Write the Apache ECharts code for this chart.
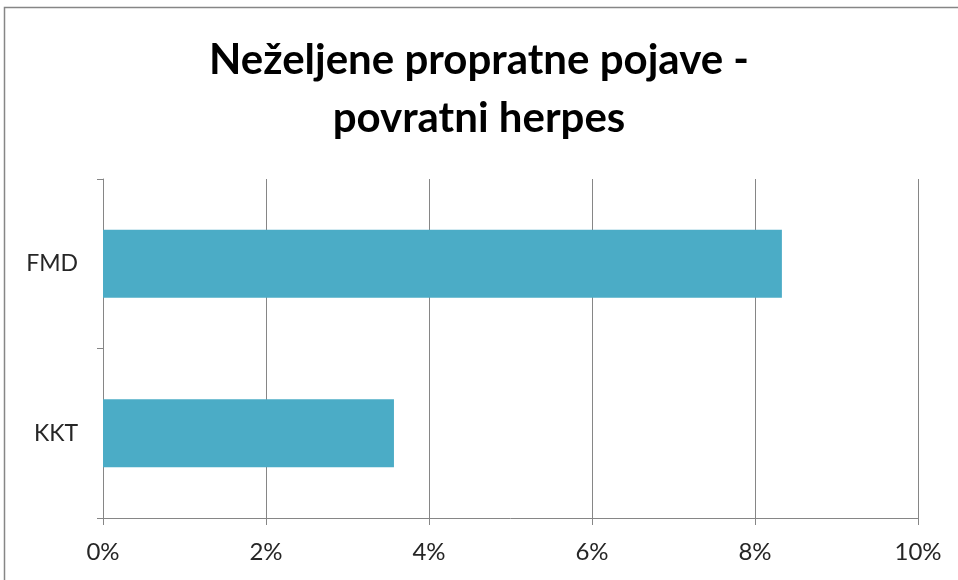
<!DOCTYPE html>
<html>
<head>
<meta charset="utf-8">
<script src="https://cdn.jsdelivr.net/npm/echarts@6/dist/echarts.min.js"></script>
<style>
  html, body { margin: 0; padding: 0; background: #fff; }
  #chart { width: 958px; height: 580px; }
</style>
</head>
<body>
<div id="chart"></div>
<script>
// Categories listed bottom-to-top, as the category axis draws them
const categories = ['KKT', 'FMD'];
const values = [3.57, 8.33];
const titleText = 'Neželjene propratne pojave -\npovratni herpes';

const chart = echarts.init(document.getElementById('chart'));
const fontFamily = 'Lato, "Open Sans", sans-serif';

chart.setOption({
  animation: false,
  title: {
    text: titleText,
    left: 'center',
    top: 26,
    textStyle: {
      fontFamily: fontFamily,
      fontSize: 42,
      fontWeight: 'bold',
      color: '#000',
      lineHeight: 58
    }
  },
  graphic: [{
    type: 'rect',
    shape: { x: 4.5, y: 7.5, width: 970, height: 600 },
    style: { fill: 'none', stroke: '#868686', lineWidth: 1.5 },
    silent: true
  }],
  grid: { left: 103, right: 40, top: 179, bottom: 62 },
  xAxis: {
    type: 'value',
    min: 0,
    max: 10,
    interval: 2,
    axisLine: { show: true, lineStyle: { color: '#868686', width: 1 } },
    axisTick: { show: true, length: 7, inside: false, lineStyle: { color: '#868686' } },
    splitLine: { show: true, lineStyle: { color: '#868686', width: 1 } },
    axisLabel: {
      formatter: v => v + '%',
      fontFamily: fontFamily,
      fontSize: 24,
      color: '#262626',
      margin: 22
    }
  },
  yAxis: {
    type: 'category',
    data: categories,
    axisLine: { show: true, lineStyle: { color: '#868686', width: 1 } },
    axisTick: { show: true, length: 6, alignWithLabel: false, lineStyle: { color: '#868686' } },
    axisLabel: {
      fontFamily: fontFamily,
      fontSize: 23,
      color: '#262626',
      margin: 25
    }
  },
  series: [{
    type: 'bar',
    data: values,
    barCategoryGap: '60%',
    itemStyle: { color: '#4BACC6' }
  }]
});
</script>
</body>
</html>
